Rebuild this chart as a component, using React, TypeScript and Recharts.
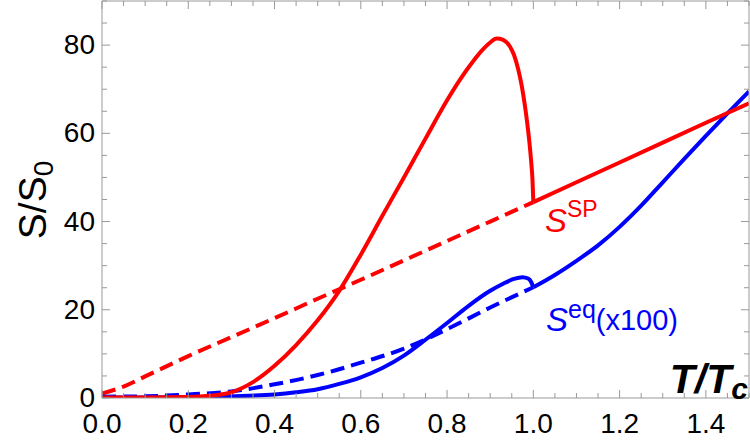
import React from 'react';
import { LineChart, Line, XAxis, YAxis } from 'recharts';

// S^SP below Tc (solid hump), above Tc (solid line) and its extension (dashed)
const spT = [0, 0.1, 0.2, 0.25, 0.3, 0.35, 0.4, 0.45, 0.5, 0.55, 0.6, 0.65, 0.7, 0.75, 0.8, 0.83, 0.86, 0.88, 0.9, 0.915, 0.93, 0.945, 0.955, 0.965, 0.973, 0.98, 0.986, 0.991, 0.995, 0.998, 1.0];
const spV = [0.1, 0.1, 0.2, 0.5, 1.3, 3.6, 7.3, 12.0, 17.6, 24.3, 32.5, 41.3, 50.0, 58.8, 67.5, 72.2, 76.3, 78.7, 80.6, 81.5, 81.2, 79.8, 77.8, 74.5, 70.8, 66.6, 62.2, 57.9, 53.6, 49.5, 44.4];
const spHighT = [1.0, 1.1, 1.2, 1.3, 1.4, 1.5];
const spHighV = [44.4, 48.9, 53.4, 57.9, 62.4, 66.8];
const spDashT = [0, 0.05, 0.1, 0.2, 0.3, 0.4, 0.5, 0.6, 0.7, 0.8, 0.9, 1.0];
const spDashV = [1.0, 2.6, 4.9, 9.5, 13.8, 18.1, 22.5, 26.8, 31.2, 35.6, 40.0, 44.4];

// S^eq (x100)
const eqT = [0, 0.1, 0.2, 0.3, 0.4, 0.45, 0.5, 0.55, 0.6, 0.65, 0.7, 0.75, 0.8, 0.85, 0.9, 0.93, 0.955, 0.975, 0.988, 0.995, 1.0];
const eqV = [0.1, 0.1, 0.2, 0.4, 0.8, 1.3, 2.0, 3.2, 4.7, 6.8, 9.6, 13.2, 17.0, 20.9, 24.3, 25.9, 27.0, 27.4, 27.1, 26.3, 25.1];
const eqHighT = [1.0, 1.05, 1.1, 1.15, 1.2, 1.25, 1.3, 1.35, 1.4, 1.45, 1.5];
const eqHighV = [25.1, 27.9, 31.1, 34.6, 38.8, 43.6, 48.9, 54.2, 59.4, 64.5, 69.5];
const eqDashT = [0, 0.1, 0.2, 0.3, 0.4, 0.5, 0.6, 0.7, 0.75, 0.8, 0.9, 1.0];
const eqDashV = [0.3, 0.4, 0.8, 1.5, 3.1, 5.2, 8.0, 11.2, 13.3, 15.6, 20.5, 25.1];

const xTicks = [0, 0.05, 0.1, 0.15, 0.2, 0.25, 0.3, 0.35, 0.4, 0.45, 0.5, 0.55, 0.6, 0.65, 0.7, 0.75, 0.8, 0.85, 0.9, 0.95, 1.0, 1.05, 1.1, 1.15, 1.2, 1.25, 1.3, 1.35, 1.4, 1.45, 1.5];
const yTicks = [0, 5, 10, 15, 20, 25, 30, 35, 40, 45, 50, 55, 60, 65, 70, 75, 80, 85, 90];

const zip = (ts: number[], vs: number[]) => ts.map((t, i) => ({ t, v: vs[i] }));

const RED = '#ff0000';
const BLUE = '#0000ff';
const FRAME = '#999999';
const FONT = '"Liberation Sans", Arial, sans-serif';
const LW = 4;

const isMajor = (v: number, step: number) => Math.abs(v / step - Math.round(v / step)) < 1e-6;

const BottomTick = (props: any) => {
  const { x, y, payload } = props;
  const major = isMajor(payload.value, 0.2);
  return (
    <g>
      <line x1={x} y1={y} x2={x} y2={y - (major ? 8 : 5)} stroke={FRAME} />
      {major && (
        <text x={x} y={y + 35} textAnchor="middle" fontSize={28} fontFamily={FONT} fill="#000">
          {payload.value.toFixed(1)}
        </text>
      )}
    </g>
  );
};

const TopTick = (props: any) => {
  const { x, y, payload } = props;
  const major = isMajor(payload.value, 0.2);
  return <line x1={x} y1={y} x2={x} y2={y + (major ? 8 : 5)} stroke={FRAME} />;
};

const LeftTick = (props: any) => {
  const { x, y, payload } = props;
  const major = isMajor(payload.value, 20);
  return (
    <g>
      <line x1={x} y1={y} x2={x + (major ? 8 : 5)} y2={y} stroke={FRAME} />
      {major && (
        <text x={x - 7} y={y + 9} textAnchor="end" fontSize={28} fontFamily={FONT} fill="#000">
          {payload.value}
        </text>
      )}
    </g>
  );
};

const RightTick = (props: any) => {
  const { x, y, payload } = props;
  const major = isMajor(payload.value, 20);
  return <line x1={x} y1={y} x2={x - (major ? 8 : 5)} y2={y} stroke={FRAME} />;
};

const App: React.FC = () => {
  return (
    <div style={{ position: 'absolute', left: 0, top: 0, width: 750, height: 444 }}>
      <LineChart width={750} height={444} margin={{ top: 0, right: 0, bottom: 0, left: 0 }}>
        <XAxis
          xAxisId="bottom"
          dataKey="t"
          type="number"
          domain={[0, 1.5]}
          allowDataOverflow
          ticks={xTicks}
          interval={0}
          height={46}
          tickSize={0}
          tickMargin={0}
          tickLine={false}
          axisLine={{ stroke: FRAME }}
          tick={<BottomTick />}
        />
        <XAxis
          xAxisId="top"
          orientation="top"
          dataKey="t"
          type="number"
          domain={[0, 1.5]}
          allowDataOverflow
          ticks={xTicks}
          interval={0}
          height={1}
          tickSize={0}
          tickMargin={0}
          tickLine={false}
          axisLine={{ stroke: FRAME }}
          tick={<TopTick />}
        />
        <YAxis
          yAxisId="left"
          type="number"
          domain={[0, 90]}
          allowDataOverflow
          ticks={yTicks}
          interval={0}
          width={102}
          tickSize={0}
          tickMargin={0}
          tickLine={false}
          axisLine={{ stroke: FRAME }}
          tick={<LeftTick />}
        />
        <YAxis
          yAxisId="right"
          orientation="right"
          type="number"
          domain={[0, 90]}
          allowDataOverflow
          ticks={yTicks}
          interval={0}
          width={1}
          tickSize={0}
          tickMargin={0}
          tickLine={false}
          axisLine={{ stroke: FRAME }}
          tick={<RightTick />}
        />
        <Line xAxisId="bottom" yAxisId="left" data={zip(spDashT, spDashV)} dataKey="v" type="monotone" stroke={RED} strokeWidth={LW} strokeDasharray="14 7" dot={false} isAnimationActive={false} />
        <Line xAxisId="bottom" yAxisId="left" data={zip(eqDashT, eqDashV)} dataKey="v" type="monotone" stroke={BLUE} strokeWidth={LW} strokeDasharray="14 7" dot={false} isAnimationActive={false} />
        <Line xAxisId="bottom" yAxisId="left" data={zip(eqT, eqV)} dataKey="v" type="monotone" stroke={BLUE} strokeWidth={LW} dot={false} isAnimationActive={false} />
        <Line xAxisId="bottom" yAxisId="left" data={zip(eqHighT, eqHighV)} dataKey="v" type="monotone" stroke={BLUE} strokeWidth={LW} dot={false} isAnimationActive={false} />
        <Line xAxisId="bottom" yAxisId="left" data={zip(spT, spV)} dataKey="v" type="monotone" stroke={RED} strokeWidth={LW} dot={false} isAnimationActive={false} />
        <Line xAxisId="bottom" yAxisId="left" data={zip(spHighT, spHighV)} dataKey="v" type="linear" stroke={RED} strokeWidth={LW} dot={false} isAnimationActive={false} />
      </LineChart>
      <svg width={750} height={444} style={{ position: 'absolute', left: 0, top: 0, pointerEvents: 'none' }}>
        <text transform="translate(46,200) rotate(-90)" textAnchor="middle" fontSize={39} fontFamily={FONT} fill="#000">
          S/S<tspan fontSize={28} dy={7}>0</tspan>
        </text>
        <text x={748} y={393} textAnchor="end" fontSize={41} fontWeight="bold" fontStyle="italic" fontFamily={FONT} fill="#000">
          T/T<tspan fontSize={30} dy={6}>c</tspan>
        </text>
        <text x={545} y={232} fontFamily={FONT} fill={RED}>
          <tspan fontSize={33} fontStyle="italic">S</tspan>
          <tspan fontSize={23} dy={-15}>SP</tspan>
        </text>
        <text x={546} y={331} fontFamily={FONT} fill={BLUE}>
          <tspan fontSize={33} fontStyle="italic">S</tspan>
          <tspan fontSize={25} dy={-13}>eq</tspan>
          <tspan fontSize={29} dy={12}>(x100)</tspan>
        </text>
      </svg>
    </div>
  );
};

export default App;
